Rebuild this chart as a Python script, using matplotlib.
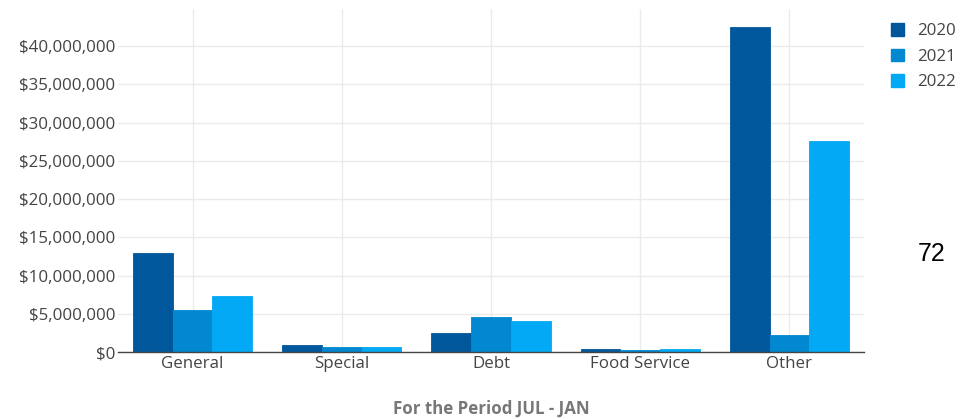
import matplotlib
matplotlib.use("Agg")
import matplotlib.pyplot as plt
from matplotlib.patches import Patch
from matplotlib.ticker import FuncFormatter, MultipleLocator
import numpy as np

categories = ["General", "Special", "Debt", "Food Service", "Other"]
years = ["2020", "2021", "2022"]
values_2020 = [12.9e6, 0.87e6, 2.48e6, 0.35e6, 42.5e6]
values_2021 = [5.45e6, 0.65e6, 4.58e6, 0.26e6, 2.22e6]
values_2022 = [7.36e6, 0.65e6, 4.10e6, 0.39e6, 27.6e6]
series = [values_2020, values_2021, values_2022]
colors = ["#01579b", "#0288d1", "#03a9f4"]

plt.rcParams['font.family'] = ['Open Sans', 'DejaVu Sans']
FS = 12.2

fig = plt.figure(figsize=(9.77, 4.19), dpi=100)
ax = fig.add_axes([118/977, 67/419, (864-118)/977, (352-9)/419])

x = np.arange(len(categories))
w = 0.8 / 3
for i, (vals, c, yr) in enumerate(zip(series, colors, years)):
    ax.bar(x + (i - 1) * w, vals, width=w, color=c, edgecolor=c, linewidth=0.6, zorder=3, label=yr)

ax.set_xlim(-0.5, 4.5)
ax.set_ylim(0, 44.84e6)
ax.yaxis.set_major_locator(MultipleLocator(5e6))
ax.yaxis.set_major_formatter(FuncFormatter(lambda v, p: "${:,.0f}".format(v)))
ax.set_xticks(x)
ax.set_xticklabels(categories)
ax.grid(True, color="#ebebeb", linewidth=1, zorder=0)
for s in ["top", "right", "left"]:
    ax.spines[s].set_visible(False)
ax.spines["bottom"].set_color("#444444")
ax.spines["bottom"].set_linewidth(1)
ax.spines["bottom"].set_zorder(4)
ax.tick_params(axis="both", length=0, labelsize=FS, colors="#444444")
ax.tick_params(axis="y", pad=2)
ax.tick_params(axis="x", pad=3)

ax.set_xlabel("For the Period JUL - JAN", fontsize=FS, fontweight="bold", color="#777777", labelpad=20)

handles = [Patch(facecolor=c, edgecolor=c, label=yr) for c, yr in zip(colors, years)]
fig.legend(handles=handles, loc="upper left", bbox_to_anchor=(876/977, 1 - 8/419),
           frameon=False, fontsize=FS, handlelength=0.75, handleheight=0.75,
           handletextpad=0.8, labelspacing=0.55, labelcolor="#444444")

fig.text(932/977, 1 - 254/419, "72", fontsize=18, family="Liberation Sans", ha="center", va="center", color="black")

fig.savefig("out.png", dpi=100)
